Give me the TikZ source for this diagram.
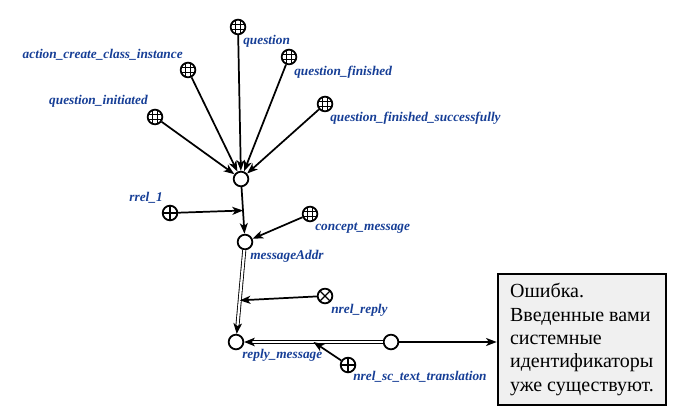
\documentclass[tikz,border=0pt]{standalone}
\usepackage{fontspec}
\setmainfont{Liberation Serif}
\usetikzlibrary{arrows.meta}
\definecolor{lblblue}{RGB}{22,62,150}
\definecolor{boxgray}{RGB}{240,240,240}
\tikzset{
	sc/.style={circle,draw,line width=1.35pt,fill=white,minimum size=11pt,inner sep=0pt},
	classnode/.style={sc,path picture={
		\foreach \d in {-1.8pt,1.8pt}
			\draw[line width=0.65pt,shift={(path picture bounding box.center)}] (\d,-6pt) -- (\d,6pt) (-6pt,\d) -- (6pt,\d);}},
	rolenode/.style={sc,path picture={
		\draw[line width=1pt] (path picture bounding box.north) -- (path picture bounding box.south)
			(path picture bounding box.west) -- (path picture bounding box.east);}},
	nrelnode/.style={sc,path picture={
		\draw[line width=1pt] (path picture bounding box.north west) -- (path picture bounding box.south east)
			(path picture bounding box.north east) -- (path picture bounding box.south west);}},
	lbl/.style={text=lblblue,inner sep=0pt,font=\fontsize{10}{12}\selectfont\bfseries\itshape},
	arr/.style={line width=1.3pt,-{Stealth[length=8pt,width=6pt,inset=2.2pt]}},
	dbl/.style={line width=0.65pt,double=white,double distance=1.7pt,-{Stealth[length=8pt,width=6.5pt,inset=2.2pt]}},
	msgbox/.style={draw,line width=1.9pt,fill=boxgray,minimum width=126pt,minimum height=98pt,
		align=left,inner sep=0pt,font=\fontsize{15}{17.6}\selectfont}
}
\begin{document}
\begin{tikzpicture}[x=0.75pt,y=-0.75pt]
	\useasboundingbox (0,0) rectangle (673,413);
	% nodes
	\node[classnode] (question) at (238,27) {};
	\node[classnode] (action) at (188,70) {};
	\node[classnode] (qfinished) at (289,57) {};
	\node[classnode] (qinit) at (155,117) {};
	\node[classnode] (qsuccess) at (325,104) {};
	\node[sc] (tuple) at (241,179) {};
	\node[rolenode] (rrel) at (170,213) {};
	\node[sc] (addr) at (245,242) {};
	\node[classnode] (concept) at (310,214) {};
	\node[nrelnode] (nreply) at (325,296) {};
	\node[sc] (reply) at (236,342) {};
	\node[sc] (pair) at (391,342) {};
	\node[rolenode] (ntrans) at (348,365) {};
	\node[msgbox] (msg) at (582,339.5) {Ошибка.\\Введенные вами\\системные\\идентификаторы\\уже существуют.};
	% labels
	\node[lbl,anchor=west] (question-l) at (243,41) {question};
	\node[lbl,anchor=east] (action-l) at (183,55) {action\_create\_class\_instance};
	\node[lbl,anchor=west] (qfinished-l) at (294,72) {question\_finished};
	\node[lbl,anchor=east] (qinit-l) at (148,101) {question\_initiated};
	\node[lbl,anchor=west] (qsuccess-l) at (330,118) {question\_finished\_successfully};
	\node[lbl,anchor=east] (rrel-l) at (163,198) {rrel\_1};
	\node[lbl,anchor=west] (concept-l) at (315,228) {concept\_message};
	\node[lbl,anchor=west] (addr-l) at (250,256) {messageAddr};
	\node[lbl,anchor=west] (nreply-l) at (331,310) {nrel\_reply};
	\node[lbl,anchor=west] (reply-l) at (242,355) {reply\_message};
	\node[lbl,anchor=west] (ntrans-l) at (353,377) {nrel\_sc\_text\_translation};
	% arcs
	\foreach \n in {question,action,qfinished,qinit,qsuccess}
		\draw[arr] (\n) -- (tuple);
	\draw[arr] (tuple) -- coordinate[pos=0.5] (m1) (addr);
	\draw[arr] (rrel) -- (m1);
	\draw[arr] (concept) -- (addr);
	\draw[dbl] (addr) -- coordinate[pos=0.6] (m2) (reply);
	\draw[arr] (nreply) -- (m2);
	\draw[dbl] (pair) -- coordinate[pos=0.5] (m3) (reply);
	\draw[arr] (ntrans) -- (m3);
	\draw[arr] (pair) -- (msg.west |- pair);
\end{tikzpicture}
\end{document}
